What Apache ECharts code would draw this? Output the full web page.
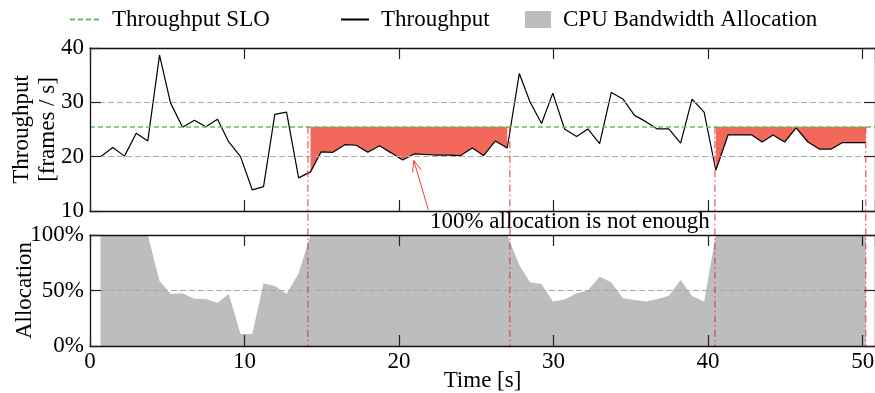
<!DOCTYPE html>
<html>
<head>
<meta charset="utf-8">
<script src="https://cdn.jsdelivr.net/npm/echarts@6/dist/echarts.min.js"></script>
<style>
  html, body { margin: 0; padding: 0; background: #ffffff; }
  #chart { width: 875px; height: 393px; }
</style>
</head>
<body>
<div id="chart"></div>
<script>
// Sample timestamps [s]
const time = [
  0.68, 1.48, 2.23, 2.99, 3.74, 4.50, 5.21, 5.99, 6.76, 7.50, 8.25, 8.98, 9.74, 10.50, 11.23, 11.96, 12.72, 13.50, 14.27,
  14.96, 15.72, 16.49, 17.23, 17.98, 18.74, 19.49, 20.23, 20.98, 21.73, 22.48, 23.23, 23.98, 24.74, 25.47, 26.23, 27.00,
  27.78, 28.47, 29.22, 29.95, 30.71, 31.49, 32.22, 32.98, 33.73, 34.49, 35.24, 36.00, 36.71, 37.46, 38.22, 38.96, 39.74, 40.50,
  41.29, 42.05, 42.83, 43.50, 44.20, 44.95, 45.70, 46.46, 47.20, 47.97, 48.70, 49.45, 50.20
];

// Measured throughput [frames / s]
const throughput = [
  20.0, 21.7, 20.1, 24.3, 22.9, 38.7, 29.9, 25.4, 26.7, 25.5, 26.9, 22.7, 20.0, 13.9, 14.5, 27.8, 28.2, 16.1, 17.2,
  20.9, 20.8, 22.2, 22.1, 20.8, 22.0, 20.7, 19.4, 20.5, 20.4, 20.3, 20.3, 20.2, 21.6, 20.2, 22.9, 21.6,
  35.3, 30.1, 26.1, 31.7, 25.1, 23.7, 25.1, 22.4, 31.8, 30.6, 27.6, 26.4, 25.1, 25.1, 22.5, 30.6, 28.2, 17.5,
  24.0, 24.0, 24.0, 22.7, 24.0, 22.7, 25.3, 22.7, 21.4, 21.4, 22.6, 22.6, 22.6
];

// CPU bandwidth allocation [%]
const allocation = [
  100, 100, 100, 100, 100, 58.6, 47.0, 47.5, 42.6, 42.3, 39.0, 46.8, 10.8, 10.8, 56.5, 54.0, 46.8, 65.5, 100,
  100, 100, 100, 100, 100, 100, 100, 100, 100, 100, 100, 100, 100, 100, 100, 100, 100,
  73.0, 57.4, 55.9, 40.0, 42.0, 47.5, 50.0, 62.4, 57.4, 43.0, 41.4, 40.0, 42.3, 45.3, 59.5, 45.0, 40.0, 100,
  100, 100, 100, 100, 100, 100, 100, 100, 100, 100, 100, 100, 100
];

// Throughput service level objective [frames / s]
const sloThroughput = 25.5;

// Start / end of the two periods where the allocation is saturated
const saturationBounds = [14.1, 27.17, 40.44, 50.2];

// Axis ticks
const timeTicks = [0, 10, 20, 30, 40, 50];
const throughputTicks = [10, 20, 30, 40];
const allocationTicks = [0, 50, 100];
const timeMax = 50.8;

// Annotation
const noteText = '100% allocation is not enough';
const noteArrowTip = [20.95, 19.3];
const noteArrowTail = [21.9, 10.2];
const noteTextAnchor = [22.0, 8.0];

const FONT = '"Liberation Serif", "Times New Roman", serif';
const FS = 23;

const throughputPoints = time.map((t, i) => [t, throughput[i]]);
const allocationPoints = time.map((t, i) => [t, allocation[i]]);

// Points below the SLO inside each saturation window
const shortfallSeries = [];
for (let k = 0; k < saturationBounds.length; k += 2) {
  const a = saturationBounds[k], b = saturationBounds[k + 1];
  shortfallSeries.push({
    type: 'line',
    xAxisIndex: 0, yAxisIndex: 0,
    data: throughputPoints.filter(p => p[0] >= a && p[0] <= b),
    symbol: 'none',
    lineStyle: { width: 0 },
    areaStyle: { origin: sloThroughput, color: '#f2685b', opacity: 1 },
    silent: true,
    z: 3
  });
}

const tickStyle = { inside: true, length: 11, lineStyle: { color: '#222', width: 1.2 } };
const lineStyleAxis = { show: true, onZero: false, lineStyle: { color: '#111', width: 1.3 } };
const labelStyle = { color: '#000', fontFamily: FONT, fontSize: FS };

function xAxisDef(gridIndex, position, labels) {
  return {
    type: 'value', gridIndex, position,
    min: timeTicks[0], max: timeMax, interval: timeTicks[1] - timeTicks[0],
    axisLine: lineStyleAxis,
    axisTick: tickStyle,
    axisLabel: labels ? Object.assign({ margin: 4, showMaxLabel: false }, labelStyle) : { show: false },
    splitLine: { show: false },
    z: 10
  };
}

function yAxisDef(gridIndex, position, ticks, labels, extra) {
  return Object.assign({
    type: 'value', gridIndex, position,
    min: ticks[0], max: ticks[ticks.length - 1], interval: ticks[1] - ticks[0],
    axisLine: lineStyleAxis,
    axisTick: tickStyle,
    axisLabel: labels ? Object.assign({ margin: 6 }, labelStyle) : { show: false },
    splitLine: { show: false },
    z: 10
  }, extra || {});
}

const chart = echarts.init(document.getElementById('chart'), null, { renderer: 'canvas' });

const legendText = { color: '#000', fontFamily: FONT, fontSize: FS, padding: [0, 0, 0, 7] };
const hideMarker = { opacity: 0 };

chart.setOption({
  animation: false,
  backgroundColor: '#ffffff',
  legend: [
    { data: ['Throughput SLO'], left: 64, top: 3, itemWidth: 30, itemHeight: 14, itemStyle: hideMarker, textStyle: legendText, selectedMode: false },
    { data: ['Throughput'], left: 335, top: 3, itemWidth: 28, itemHeight: 14, itemStyle: hideMarker, textStyle: legendText, selectedMode: false },
    { data: [{ name: 'CPU Bandwidth Allocation', icon: 'rect' }], left: 520, top: 3, itemWidth: 26, itemHeight: 17, textStyle: legendText, selectedMode: false }
  ],
  grid: [
    { left: 90, right: 0, top: 48, height: 163, outerBoundsMode: 'none', containLabel: false },
    { left: 90, right: 0, top: 235, height: 111, outerBoundsMode: 'none', containLabel: false }
  ],
  xAxis: [
    xAxisDef(0, 'bottom', false),
    Object.assign(xAxisDef(1, 'bottom', true), {
      name: 'Time [s]', nameLocation: 'middle', nameGap: 23, nameMoveOverlap: false,
      nameTextStyle: { color: '#000', fontFamily: FONT, fontSize: FS }
    }),
    xAxisDef(0, 'top', false),
    xAxisDef(1, 'top', false)
  ],
  yAxis: [
    yAxisDef(0, 'left', throughputTicks, true, {
      name: 'Throughput\n[frames / s]', nameLocation: 'middle', nameGap: 29, nameRotate: 90, nameMoveOverlap: false,
      nameTextStyle: { color: '#000', fontFamily: FONT, fontSize: FS, lineHeight: 26 },
      splitLine: { show: true, lineStyle: { color: '#aaaaaa', type: [6, 3], width: 1 } }
    }),
    yAxisDef(1, 'left', allocationTicks, true, {
      name: 'Allocation', nameLocation: 'middle', nameGap: 54, nameRotate: 90, nameMoveOverlap: false,
      nameTextStyle: { color: '#000', fontFamily: FONT, fontSize: FS },
      axisLabel: Object.assign({ margin: 6, formatter: '{value}%' }, labelStyle)
    }),
    yAxisDef(0, 'right', throughputTicks, false),
    yAxisDef(1, 'right', allocationTicks, false)
  ],
  series: [
    {
      name: 'Throughput SLO', type: 'line', xAxisIndex: 0, yAxisIndex: 0,
      data: [], symbol: 'none',
      itemStyle: { color: '#55c955' },
      lineStyle: { color: '#55c955', type: [5, 3], width: 1.5 },
      markLine: {
        silent: true, symbol: ['none', 'none'], label: { show: false },
        lineStyle: { color: '#55c955', type: [5, 3], width: 1.5 },
        data: [{ yAxis: sloThroughput }]
      },
      z: 2
    },
    ...shortfallSeries,
    {
      name: 'Throughput', type: 'line', xAxisIndex: 0, yAxisIndex: 0,
      data: throughputPoints, symbol: 'none',
      itemStyle: { color: '#000' },
      lineStyle: { color: '#000', width: 1.2 },
      z: 4
    },
    {
      name: 'CPU Bandwidth Allocation', type: 'line', xAxisIndex: 1, yAxisIndex: 1,
      data: allocationPoints, symbol: 'none',
      itemStyle: { color: '#bdbdbd' },
      lineStyle: { width: 0 },
      areaStyle: { color: '#bdbdbd', opacity: 1, origin: 'start' },
      markLine: {
        silent: true, symbol: ['none', 'none'], label: { show: false },
        lineStyle: { color: '#a6a6a6', type: [6, 3], width: 1 },
        data: [{ yAxis: 50 }]
      },
      z: 2
    }
  ]
});

// Saturation markers spanning both panels, arrow and note
const upperPanel = { xAxisIndex: 0, yAxisIndex: 0 };
const lowerPanel = { xAxisIndex: 1, yAxisIndex: 1 };
const graphics = [];
saturationBounds.forEach(t => {
  const p1 = chart.convertToPixel(upperPanel, [t, sloThroughput]);
  const p2 = chart.convertToPixel(lowerPanel, [t, allocationTicks[0]]);
  graphics.push({
    type: 'line', z: 20, silent: true,
    shape: { x1: p1[0], y1: p1[1], x2: p2[0], y2: p2[1] },
    style: { stroke: 'rgba(236, 40, 40, 0.8)', lineWidth: 1.2, lineDash: [7, 3, 1.5, 3] }
  });
});

const tail = chart.convertToPixel(upperPanel, noteArrowTail);
const tip = chart.convertToPixel(upperPanel, noteArrowTip);
const ang = Math.atan2(tip[1] - tail[1], tip[0] - tail[0]);
const headLen = 12, headAng = 0.38;
const arrowColor = '#f03c3c';
graphics.push({
  type: 'line', z: 21, silent: true,
  shape: { x1: tail[0], y1: tail[1], x2: tip[0], y2: tip[1] },
  style: { stroke: arrowColor, lineWidth: 1 }
});
graphics.push({
  type: 'polyline', z: 21, silent: true,
  shape: { points: [
    [tip[0] - headLen * Math.cos(ang - headAng), tip[1] - headLen * Math.sin(ang - headAng)],
    [tip[0], tip[1]],
    [tip[0] - headLen * Math.cos(ang + headAng), tip[1] - headLen * Math.sin(ang + headAng)]
  ] },
  style: { stroke: arrowColor, lineWidth: 1, fill: null }
});
const tp = chart.convertToPixel(upperPanel, noteTextAnchor);
graphics.push({
  type: 'text', z: 22, silent: true,
  x: tp[0], y: tp[1],
  style: { text: noteText, fill: '#000', font: FS + 'px ' + FONT, align: 'left', verticalAlign: 'middle' }
});

chart.setOption({ graphic: graphics });
</script>
</body>
</html>
